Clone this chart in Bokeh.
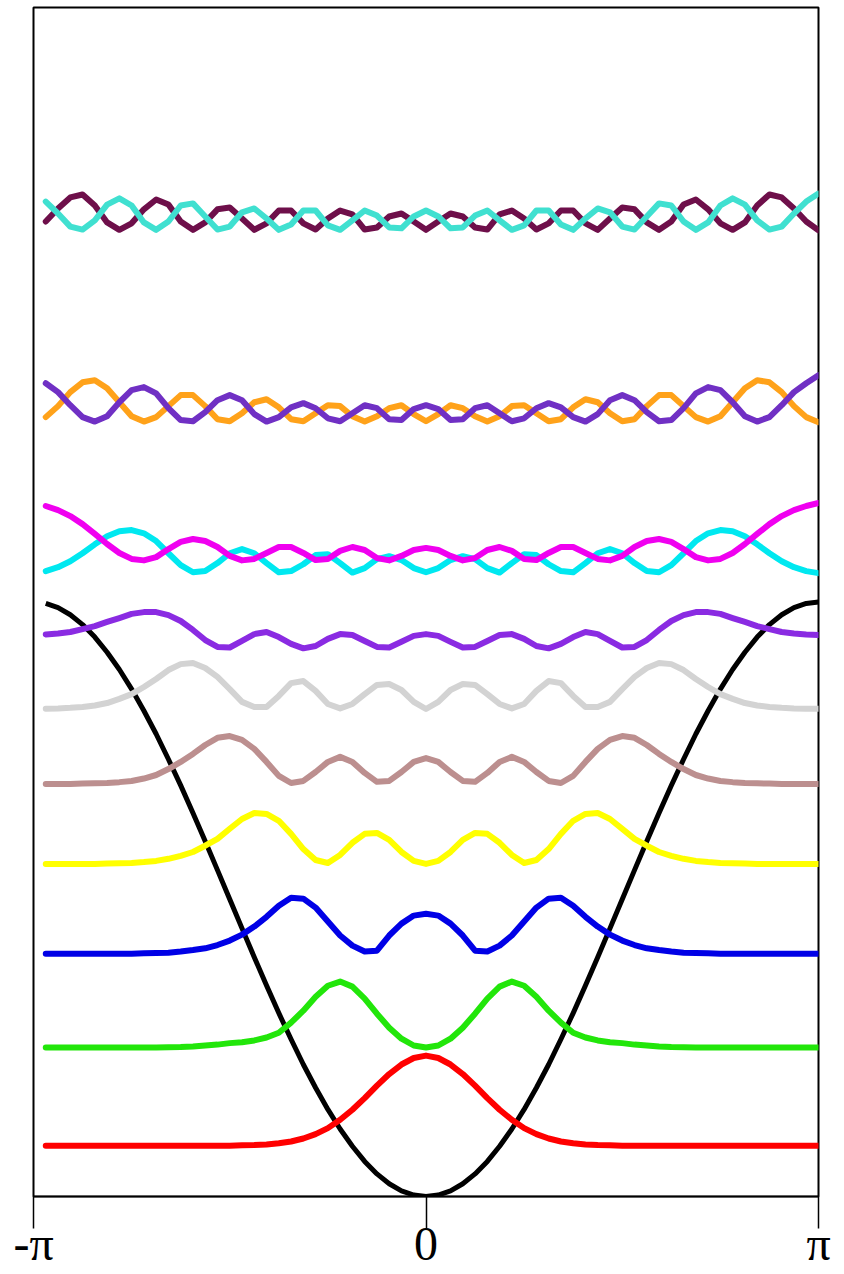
import math
from bokeh.plotting import figure
from bokeh.models import Range1d, LinearAxis, FixedTicker
from bokeh.embed import file_html
from bokeh.resources import INLINE

# ---- data ---------------------------------------------------------------
# sample positions: 64 points from -pi + pi/32 to pi
N_SAMPLES = 64
X = [-math.pi + j * math.pi / 32 for j in range(1, N_SAMPLES + 1)]

# potential V(x)
POTENTIAL = [1.995, 1.981, 1.957, 1.924, 1.882, 1.831, 1.773, 1.707, 1.634, 1.556,
             1.471, 1.383, 1.290, 1.195, 1.098, 1.000, 0.902, 0.805, 0.710, 0.617,
             0.529, 0.444, 0.366, 0.293, 0.227, 0.169, 0.118, 0.076, 0.043, 0.019,
             0.005, 0.000,
             0.005, 0.019, 0.043, 0.076, 0.118, 0.169, 0.227, 0.293, 0.366, 0.444,
             0.529, 0.617, 0.710, 0.805, 0.902, 1.000, 1.098, 1.195, 1.290, 1.383,
             1.471, 1.556, 1.634, 1.707, 1.773, 1.831, 1.882, 1.924, 1.957, 1.981,
             1.995, 2.000]

# energy levels (baselines of the densities)
LEVELS = [0.171, 0.501, 0.817, 1.119, 1.388, 1.640, 1.842,
          2.097, 2.138, 2.605, 2.605, 3.250, 3.250]

# probability densities (height above each level)
RED = [0, 0, 0, 0, 0, 0, 0, 0, 0, 0, 0, 0, 0, 0, 0, 0,
       .001, .002, .004, .008, .014, .024, .039, .059, .087, .121, .160, .202, .241, .273, .295,
       .303,
       .295, .273, .241, .202, .160, .121, .087, .059, .039, .024, .014, .008, .004, .002, .001,
       0, 0, 0, 0, 0, 0, 0, 0, 0, 0, 0, 0, 0, 0, 0, 0,
       0]
GREEN = [0, 0, 0, 0, 0, 0, 0, 0, 0, 0,
         .001, .002, .004, .007, .010, .015, .018, .024, .034, .050, .084, .124, .171, .208, .222, .205, .165, .114, .067, .030, .007,
         0,
         .007, .030, .067, .114, .165, .205, .222, .208, .171, .124, .084, .050, .034, .024, .018, .015, .010, .007, .004, .002, .001,
         0, 0, 0, 0, 0, 0, 0, 0, 0, 0,
         0]
BLUE = [0, 0, 0, 0, 0, 0, 0, 0,
        .001, .002, .003, .007, .012, .018, .029, .044, .064, .091, .124, .161, .188, .185, .155, .108, .061, .027, .007, .010, .061, .101, .128,
        .134,
        .128, .101, .061, .010, .007, .027, .061, .108, .155, .185, .188, .161, .124, .091, .064, .044, .029, .018, .012, .007, .003, .002, .001,
        0, 0, 0, 0, 0, 0, 0, 0,
        0]
YELLOW = [0, 0, 0, 0, 0,
          .001, .002, .003, .006, .010, .017, .027, .040, .061, .084, .118, .151, .171, .168, .145, .101, .050, .013, .003, .030, .071, .101, .104, .081, .040, .010,
          0,
          .010, .040, .081, .104, .101, .071, .030, .003, .013, .050, .101, .145, .168, .171, .151, .118, .084, .061, .040, .027, .017, .010, .006, .003, .002, .001,
          0, 0, 0, 0, 0,
          0]
BROWN = [0, 0, 0,
         .001, .002, .003, .006, .010, .018, .030, .050, .074, .101, .131, .155, .161, .148, .118, .074, .027, .003, .010, .040, .074, .091, .074, .037, .007, .010, .040, .074,
         .087,
         .074, .040, .010, .007, .037, .074, .091, .074, .040, .010, .003, .027, .074, .118, .148, .161, .155, .131, .101, .074, .050, .030, .018, .010, .006, .003, .002, .001,
         0, 0, 0,
         0]
GRAY = [.001, .002, .004, .007, .012, .020, .034, .050, .074, .101, .131, .151, .155, .138, .108, .067, .024, .007, .007, .044, .087, .094, .061, .017, .002, .017, .050, .081, .084, .064, .024,
        0,
        .024, .064, .084, .081, .050, .017, .002, .017, .061, .094, .087, .044, .007, .007, .024, .067, .108, .138, .155, .151, .131, .101, .074, .050, .034, .020, .012, .007, .004, .002, .001,
        .001]
VIOLET = [.049, .052, .057, .067, .077, .091, .104, .118, .124, .124, .114, .094, .064, .030, .007, .005, .027, .050, .057, .040, .017, .002, .010, .034, .050, .047, .027, .007, .005, .024, .044,
          .050,
          .044, .024, .005, .007, .027, .047, .050, .034, .010, .002, .017, .040, .057, .050, .027, .005, .007, .030, .064, .094, .114, .124, .124, .118, .104, .091, .077, .067, .057, .052, .049,
          .047]
CYAN = [.007, .020, .040, .067, .097, .124, .141, .145, .134, .108, .067, .027, .003, .007, .034, .067, .081, .067, .034, .003, .007, .030, .061, .064, .034, .002, .017, .047, .057, .044, .017,
        .003,
        .017, .044, .057, .047, .017, .002, .034, .064, .061, .030, .007, .003, .034, .067, .081, .067, .034, .007, .003, .027, .067, .108, .134, .145, .141, .124, .097, .067, .040, .020, .007,
        0]
MAGENTA = [.185, .171, .151, .124, .091, .057, .027, .007, .002, .013, .040, .064, .074, .067, .047, .017, .002, .007, .027, .047, .047, .027, .003, .007, .034, .047, .037, .010, .002, .017, .037,
           .044,
           .037, .017, .002, .010, .037, .047, .034, .007, .003, .027, .047, .047, .027, .007, .002, .017, .047, .067, .074, .064, .040, .013, .002, .007, .027, .057, .091, .124, .151, .171, .185,
           .195]
ORANGE = [.017, .054, .101, .134, .141, .114, .067, .020, .002, .017, .054, .091, .091, .054, .010, .003, .030, .067, .077, .050, .010, .003, .030, .057, .054, .020, .002, .020, .047, .057, .027,
          .003,
          .027, .057, .047, .020, .002, .020, .054, .057, .030, .003, .010, .050, .077, .067, .030, .003, .010, .054, .091, .091, .054, .017, .002, .020, .067, .114, .141, .134, .101, .054, .017,
          0]
INDIGO = [.131, .101, .057, .017, .002, .020, .067, .108, .118, .097, .047, .007, .003, .034, .074, .091, .074, .027, .002, .017, .050, .064, .047, .013, .003, .030, .057, .047, .010, .007, .044,
          .057,
          .044, .007, .010, .047, .057, .030, .003, .013, .047, .064, .050, .017, .002, .027, .074, .091, .074, .034, .003, .007, .047, .097, .118, .108, .067, .020, .002, .017, .057, .101, .131,
          .158]
MAROON = [.030, .074, .111, .121, .084, .027, .002, .024, .071, .104, .087, .030, .002, .027, .071, .077, .040, .002, .024, .067, .067, .024, .003, .040, .067, .054, .003, .010, .047, .057, .030,
          .002,
          .030, .057, .047, .010, .003, .054, .067, .040, .003, .024, .067, .067, .024, .002, .040, .077, .071, .027, .002, .030, .087, .104, .071, .024, .002, .027, .084, .121, .111, .074, .030,
          0]
TURQUOISE = [.097, .057, .013, .003, .034, .087, .108, .084, .027, .002, .030, .084, .091, .047, .003, .013, .061, .074, .040, .002, .020, .067, .067, .017, .002, .034, .067, .050, .010, .007, .047,
             .067,
             .047, .007, .010, .050, .067, .034, .002, .017, .067, .067, .020, .002, .040, .074, .061, .013, .003, .047, .091, .084, .030, .002, .027, .084, .108, .087, .034, .003, .013, .057, .097,
             .124]

DENSITIES = [RED, GREEN, BLUE, YELLOW, BROWN, GRAY, VIOLET,
             CYAN, MAGENTA, ORANGE, INDIGO, MAROON, TURQUOISE]
COLORS = ["#ff0000", "#22e60a", "#0000e6", "#ffff00", "#bc8f8f", "#d3d3d3", "#8a2be2",
          "#00e8f0", "#f000f0", "#ffa21a", "#7030c4", "#6e0f4a", "#40e0d0"]

TICKS = [-math.pi, 0.0, math.pi]
TICK_LABELS = ["-π", "0", "π"]

# ---- figure -------------------------------------------------------------
p = figure(width=844, height=1274,
           x_range=Range1d(-math.pi, math.pi), y_range=Range1d(0, 4.0),
           output_backend="svg", toolbar_location=None,
           x_axis_location=None, y_axis_location=None,
           min_border_left=33, min_border_right=26, min_border_top=7, min_border_bottom=78)
p.xgrid.visible = False
p.ygrid.visible = False
p.outline_line_color = "black"
p.outline_line_width = 2
p.background_fill_color = "white"
p.border_fill_color = "white"

p.line(X, POTENTIAL, line_color="black", line_width=5, line_join="round")

for level, dens, col in zip(LEVELS, DENSITIES, COLORS):
    assert len(dens) == N_SAMPLES
    ys = [level + d for d in dens]
    p.line(X, ys, line_color=col, line_width=6, line_join="round", line_cap="round")

ax = LinearAxis(ticker=FixedTicker(ticks=TICKS),
                major_label_overrides=dict(zip(TICKS, TICK_LABELS)))
ax.major_tick_out = 32
ax.major_tick_in = 0
ax.minor_tick_out = 0
ax.minor_tick_in = 0
ax.major_tick_line_width = 1.5
ax.major_tick_line_color = "black"
ax.axis_line_width = 1.5
ax.axis_line_color = "black"
ax.major_label_text_font = "Liberation Serif"
ax.major_label_text_font_size = "48px"
ax.major_label_text_color = "black"
ax.major_label_standoff = -12
p.add_layout(ax, "below")

open("out.html", "w").write(file_html(p, INLINE))
